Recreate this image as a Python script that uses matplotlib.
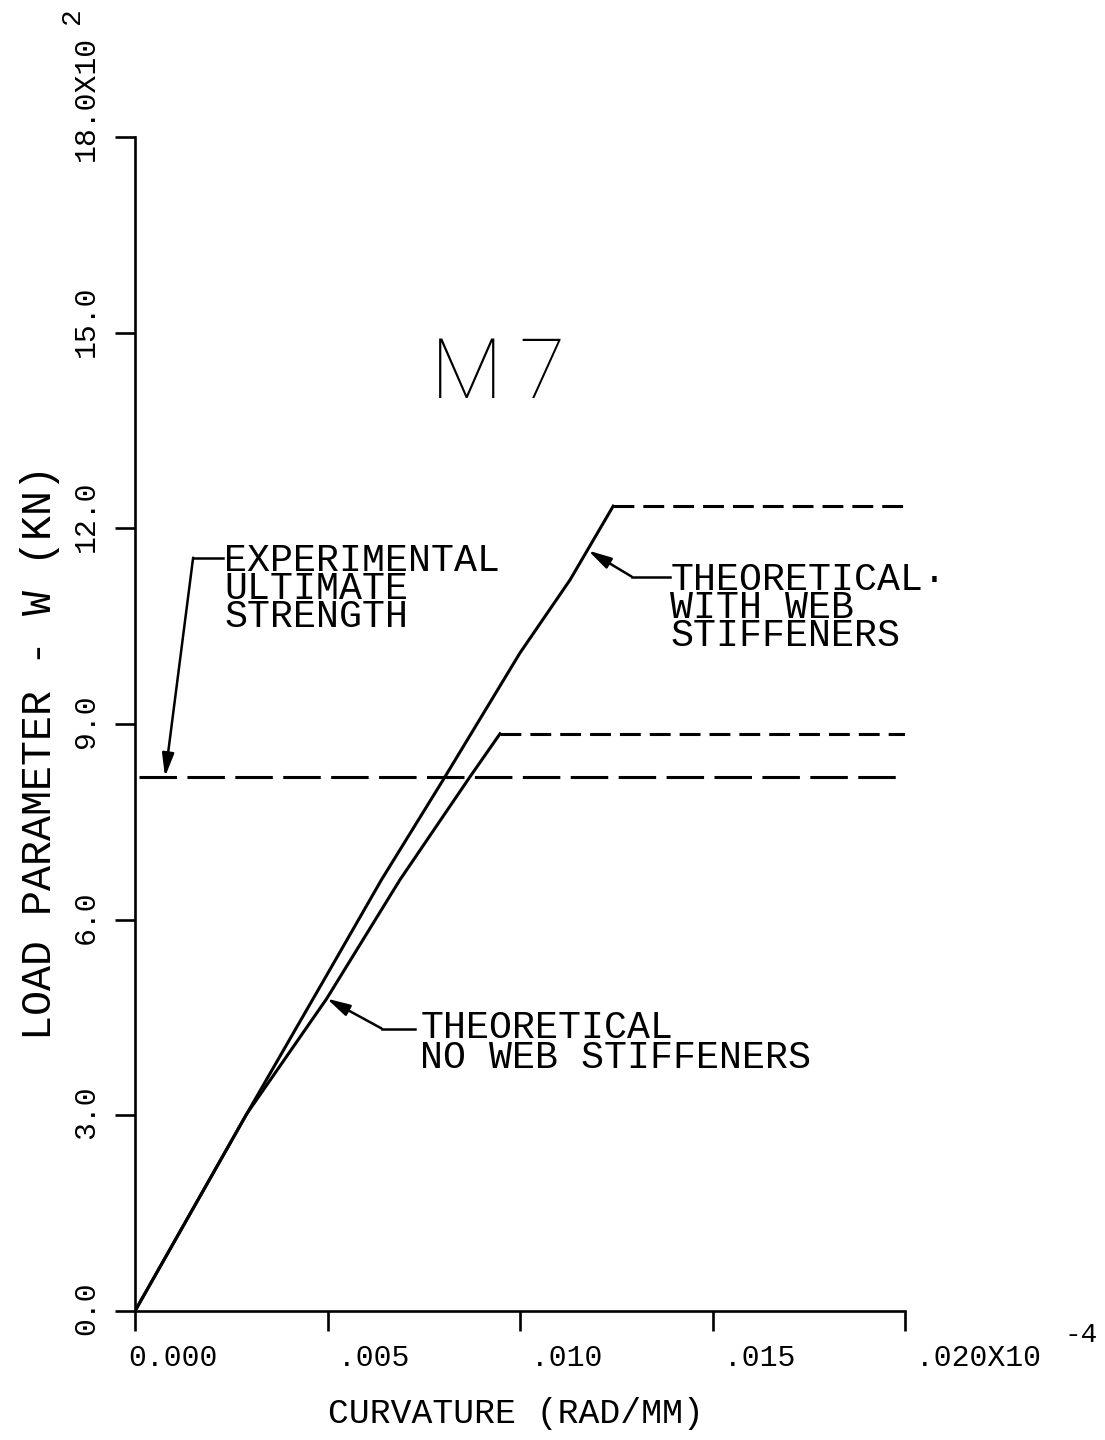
import matplotlib
matplotlib.use("Agg")
import matplotlib.pyplot as plt
import matplotlib.transforms as mtransforms

plt.rcParams['font.family'] = ['Liberation Mono', 'DejaVu Sans Mono']
plt.rcParams['lines.scale_dashes'] = False

# Curvature (x 1e-4 rad/mm) and load parameter W (x 1e2 kN)
with_web_curv = [0.0, 0.0029, 0.0050, 0.0064, 0.0080, 0.0100, 0.0113, 0.01242]
with_web_load = [0.0, 3.02, 5.17, 6.61, 8.14, 10.09, 11.21, 12.34]

no_web_curv = [0.0, 0.0029, 0.00498, 0.00688, 0.0087, 0.00948]
no_web_load = [0.0, 3.02, 4.79, 6.61, 8.19, 8.85]

experimental_load = 8.19
curv_max = 0.020

x_ticks = [0.0, 0.005, 0.010, 0.015, 0.020]
x_tick_labels = ["0.000", " .005", " .010", " .015", " .020X10"]
y_ticks = [0.0, 3.0, 6.0, 9.0, 12.0, 15.0, 18.0]
y_tick_labels = ["0.0", "3.0", "6.0", "9.0", "12.0", "15.0", "18.0X10"]

LW = 2.2
INK = "black"

fig = plt.figure(figsize=(11.05, 14.40), dpi=100)
ax = fig.add_axes([135 / 1105, 1 - 1311 / 1440, 770 / 1105, 1174 / 1440])
ax.set_xlim(0, curv_max)
ax.set_ylim(0, 18)

for side in ("top", "right"):
    ax.spines[side].set_visible(False)
for side in ("left", "bottom"):
    ax.spines[side].set_linewidth(1.9)

# theoretical curves: solid rise, dashed plateau
ax.plot(with_web_curv, with_web_load, color=INK, lw=LW, solid_joinstyle="round")
ax.plot([with_web_curv[-1], curv_max], [with_web_load[-1]] * 2, color=INK, lw=LW,
        linestyle=(0, (15, 6.5)))
ax.plot(no_web_curv, no_web_load, color=INK, lw=LW, solid_joinstyle="round")
ax.plot([no_web_curv[-1], curv_max], [no_web_load[-1]] * 2, color=INK, lw=LW,
        linestyle=(0, (15, 6.5)))
# experimental ultimate strength
ax.plot([0.0001, curv_max], [experimental_load] * 2, color=INK, lw=LW,
        linestyle=(0, (27, 7.5)))

# ticks
ax.set_xticks(x_ticks)
ax.set_xticklabels(x_tick_labels, ha="left", fontsize=21.5)
ax.set_yticks(y_ticks)
ax.set_yticklabels(y_tick_labels, fontsize=21.5, rotation=90, rotation_mode="anchor",
                   ha="left", va="center")
ax.tick_params(axis="both", direction="out", length=14.4, width=1.9, color=INK)
ax.tick_params(axis="x", pad=9)
ax.tick_params(axis="y", pad=21)

x_shift = mtransforms.ScaledTranslation(-7 / 100, 0, fig.dpi_scale_trans)
for lab in ax.get_xticklabels():
    lab.set_transform(lab.get_transform() + x_shift)
y_shift = mtransforms.ScaledTranslation(0, -24 / 100, fig.dpi_scale_trans)
for lab in ax.get_yticklabels():
    lab.set_transform(lab.get_transform() + y_shift)

# exponents of the axis multipliers
ax.annotate("2", xy=(0, 18), xycoords="data", xytext=(-45.5, 87), textcoords="offset points",
            rotation=90, fontsize=20, ha="center", va="center", annotation_clip=False)
ax.annotate("-4", xy=(curv_max, 0), xycoords="data", xytext=(127, -17.5),
            textcoords="offset points", fontsize=20, ha="center", va="center",
            annotation_clip=False)

# axis titles
ax.set_xlabel("CURVATURE (RAD/MM)", fontsize=25)
ax.xaxis.set_label_coords(0.495, -0.0869)
ax.xaxis.label.set_va("center")
ax.set_ylabel("LOAD PARAMETER - W (KN)", fontsize=30)
ax.yaxis.set_label_coords(-0.1234, 0.476)
ax.yaxis.label.set_va("center")

# specimen title
ax.text(0.00943, 14.0, "M\u20097", fontsize=60, ha="center", va="baseline",
        family=["Roboto", "DejaVu Sans"], fontweight="light")

ANN = 27.5
arrow = dict(arrowstyle="-|>,head_length=0.7,head_width=0.18", color=INK, lw=1.8,
             mutation_scale=20, shrinkA=0, shrinkB=0)

# experimental leader
ax.plot([0.00151, 0.00229], [11.55, 11.55], color=INK, lw=1.8, clip_on=False)
ax.annotate("", xy=(0.00078, experimental_load), xytext=(0.00151, 11.55), arrowprops=arrow)
for i, line in enumerate(["EXPERIMENTAL", "ULTIMATE", "STRENGTH"]):
    ax.text(0.00232, 11.35 - 0.43 * i, line, fontsize=ANN, ha="left", va="baseline")

# with-web leader
ax.plot([0.01290, 0.01390], [11.26, 11.26], color=INK, lw=1.8)
ax.annotate("", xy=(0.01177, 11.66), xytext=(0.01290, 11.26), arrowprops=arrow)
for i, line in enumerate(["THEORETICAL·", "WITH WEB", "STIFFENERS"]):
    ax.text(0.01390, 11.06 - 0.43 * i, line, fontsize=ANN, ha="left", va="baseline")

# no-web leader
ax.plot([0.00641, 0.00727], [4.33, 4.33], color=INK, lw=1.8)
ax.annotate("", xy=(0.00498, 4.79), xytext=(0.00641, 4.33), arrowprops=arrow)
for i, line in enumerate(["THEORETICAL", "NO WEB STIFFENERS"]):
    ax.text(0.00741, 4.18 - 0.45 * i, line, fontsize=ANN, ha="left", va="baseline")

fig.savefig("out.png", dpi=100, facecolor="white")
